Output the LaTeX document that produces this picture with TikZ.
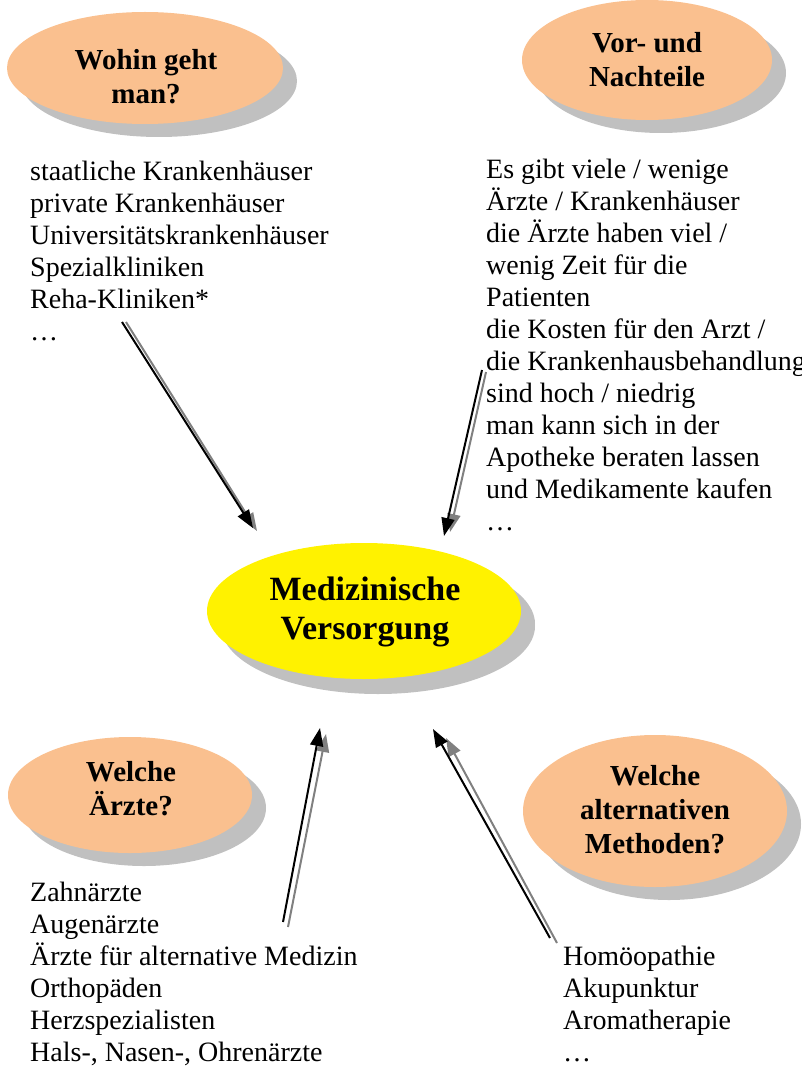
\documentclass[tikz,border=0pt]{standalone}
\usepackage{fontspec}
\setmainfont{Liberation Serif}
\usetikzlibrary{shapes.geometric,arrows.meta,shadows}
\definecolor{peach}{RGB}{250,192,143}
\definecolor{shgray}{RGB}{192,192,192}
\definecolor{argray}{RGB}{128,128,128}
\begin{document}
\begin{tikzpicture}[x=1pt,y=-1pt,
  oval/.style={ellipse, inner sep=0, draw=none, fill=peach,
    drop shadow={shadow xshift=14pt, shadow yshift=-13pt, fill=shgray, opacity=1}},
  hdr/.style={align=center, font=\fontsize{29}{34}\selectfont\bfseries, inner sep=0},
  body/.style={align=left, anchor=base west, font=\fontsize{28}{32}\selectfont, inner sep=0},
  arr/.style={line width=2pt, -{Triangle[length=18pt,width=13pt]}},
  arrsh/.style={arr, draw=argray, fill=argray}]
\useasboundingbox (0,0) rectangle (802,1067);

% ellipses
\node[oval, minimum width=276pt, minimum height=112pt] (e1) at (145,68) {};
\node[oval, minimum width=250pt, minimum height=120pt] (e2) at (647,60) {};
\node[oval, fill=yellow, minimum width=314pt, minimum height=136pt,
  drop shadow={shadow xshift=14pt, shadow yshift=-15pt, fill=shgray, opacity=1}] (e3) at (364,611) {};
\node[oval, minimum width=244pt, minimum height=116pt] (e4) at (130,795) {};
\node[oval, minimum width=264pt, minimum height=152pt] (e5) at (655,811) {};

% headings
\node[hdr] (h1) at (146,77) {Wohin geht\\man?};
\node[hdr] (h2) at (647,60) {Vor- und\\Nachteile};
\node[hdr, font=\fontsize{34}{39}\selectfont\bfseries] (h3) at (365,612) {Medizinische\\Versorgung};
\node[hdr] (h4) at (131,789) {Welche\\Ärzte?};
\node[hdr] (h5) at (655,810) {Welche\\alternativen\\Methoden?};

% lists (anchor = baseline of last line)
\node[body] (l1) at (30,340) {staatliche Krankenhäuser\\private Krankenhäuser\\Universitätskrankenhäuser\\Spezialkliniken\\Reha-Kliniken*\\…};
\node[body] (l2) at (486,530) {Es gibt viele / wenige\\Ärzte / Krankenhäuser\\die Ärzte haben viel /\\wenig Zeit für die\\Patienten\\die Kosten für den Arzt /\\die Krankenhausbehandlung\\sind hoch / niedrig\\man kann sich in der\\Apotheke beraten lassen\\und Medikamente kaufen\\…};
\node[body] (l3) at (30,1061) {Zahnärzte\\Augenärzte\\Ärzte für alternative Medizin\\Orthopäden\\Herzspezialisten\\Hals-, Nasen-, Ohrenärzte};
\node[body] (l4) at (563,1061) {Homöopathie\\Akupunktur\\Aromatherapie\\…};

% arrow coordinates
\coordinate (a1s) at (122,322); \coordinate (a1e) at (253,528);
\coordinate (g1s) at (126,322); \coordinate (g1e) at (257,531);
\coordinate (a2s) at (482,370); \coordinate (a2e) at (444,536);
\coordinate (g2s) at (486,372); \coordinate (g2e) at (450,532);
\coordinate (a3s) at (283,922); \coordinate (a3e) at (320,728);
\coordinate (g3s) at (288,927); \coordinate (g3e) at (326,734);
\coordinate (a4s) at (550,938); \coordinate (a4e) at (433,729);
\coordinate (g4s) at (557,943); \coordinate (g4e) at (446,738);

% arrow shadows
\draw[arrsh] (g1s) -- (g1e);
\draw[arrsh] (g2s) -- (g2e);
\draw[arrsh] (g3s) -- (g3e);
\draw[arrsh] (g4s) -- (g4e);
% arrows
\draw[arr] (a1s) -- (a1e);
\draw[arr] (a2s) -- (a2e);
\draw[arr] (a3s) -- (a3e);
\draw[arr] (a4s) -- (a4e);
\end{tikzpicture}
\end{document}
